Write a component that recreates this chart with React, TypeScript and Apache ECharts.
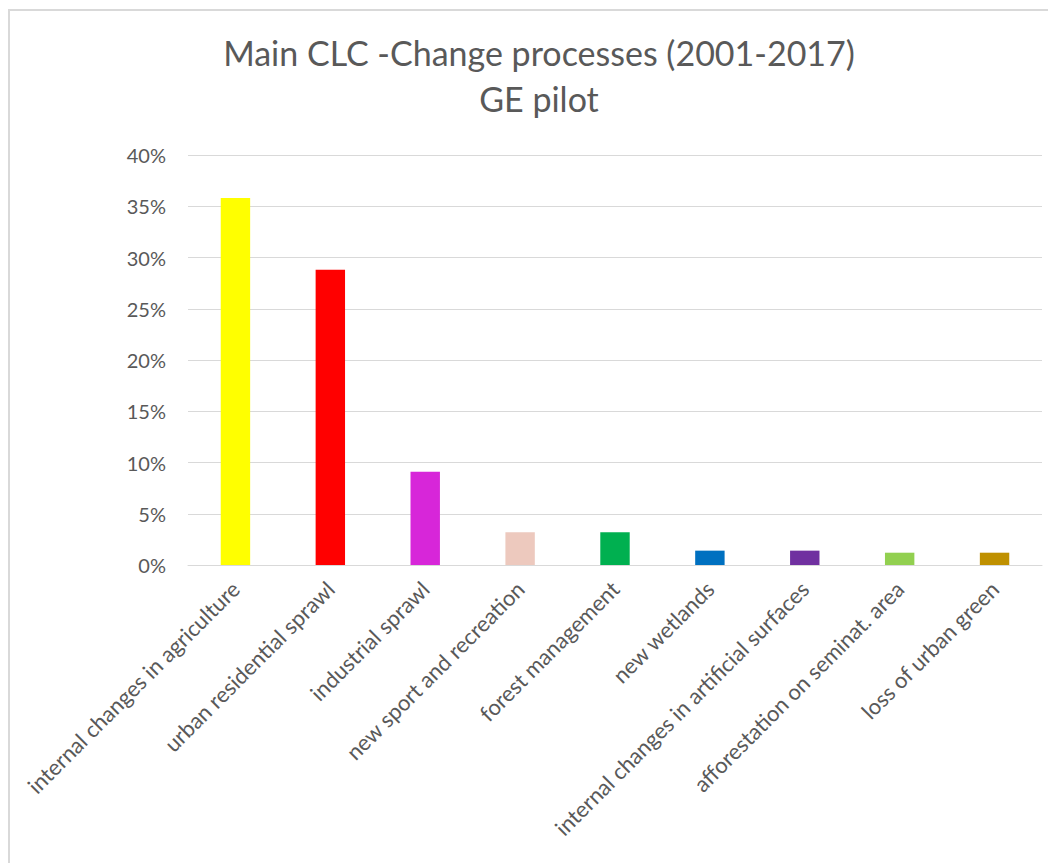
import React, { useEffect, useRef } from "react";
import * as echarts from "echarts";

const categories = [
  "internal changes in agriculture",
  "urban residential sprawl",
  "industrial sprawl",
  "new sport and recreation",
  "forest management",
  "new wetlands",
  "internal changes in artificial surfaces",
  "afforestation on seminat. area",
  "loss of urban green",
];
const values = [35.8, 28.8, 9.1, 3.2, 3.2, 1.4, 1.4, 1.2, 1.2];
const barColors = [
  "#FFFF00",
  "#FF0000",
  "#D726D9",
  "#EDC9BE",
  "#00B050",
  "#0070C0",
  "#7030A0",
  "#92D050",
  "#BF9000",
];
const titleLines = ["Main CLC -Change processes (2001-2017)", "GE pilot"];

export default function App() {
  const ref = useRef<HTMLDivElement>(null);
  useEffect(() => {
    if (!ref.current) return;
    const chart = echarts.init(ref.current, null, { renderer: "svg" });
    const font = "Lato, 'Open Sans', sans-serif";
    chart.setOption({
      animation: false,
      backgroundColor: "#ffffff",
      title: {
        text: titleLines.join("\n"),
        left: 526,
        top: 16,
        textAlign: "center",
        textStyle: {
          fontFamily: font,
          fontSize: 34,
          fontWeight: "normal",
          color: "#595959",
          lineHeight: 46,
        },
      },
      graphic: [
        {
          type: "rect",
          shape: { x: 1, y: 2, width: 1200, height: 1000 },
          style: { fill: "none", stroke: "#d9d9d9", lineWidth: 2 },
          silent: true,
        },
      ],
      grid: { left: 180, right: 14, top: 147, bottom: 298 },
      xAxis: {
        type: "category",
        data: categories,
        axisLine: { lineStyle: { color: "#d9d9d9", width: 1 } },
        axisTick: { show: false },
        axisLabel: {
          rotate: 45,
          interval: 0,
          margin: 20,
          fontFamily: font,
          fontSize: 22,
          color: "#595959",
        },
      },
      yAxis: {
        type: "value",
        min: 0,
        max: 40,
        interval: 5,
        axisLine: { show: false },
        axisTick: { show: false },
        splitLine: { lineStyle: { color: "#d9d9d9", width: 1 } },
        axisLabel: {
          formatter: "{value}%",
          margin: 22,
          fontFamily: font,
          fontSize: 20,
          color: "#595959",
        },
      },
      series: [
        {
          type: "bar",
          data: values.map((v, i) => ({ value: v, itemStyle: { color: barColors[i] } })),
          barWidth: "31%",
        },
      ],
    });
    return () => chart.dispose();
  }, []);
  return <div ref={ref} style={{ width: 1048, height: 855 }} />;
}
